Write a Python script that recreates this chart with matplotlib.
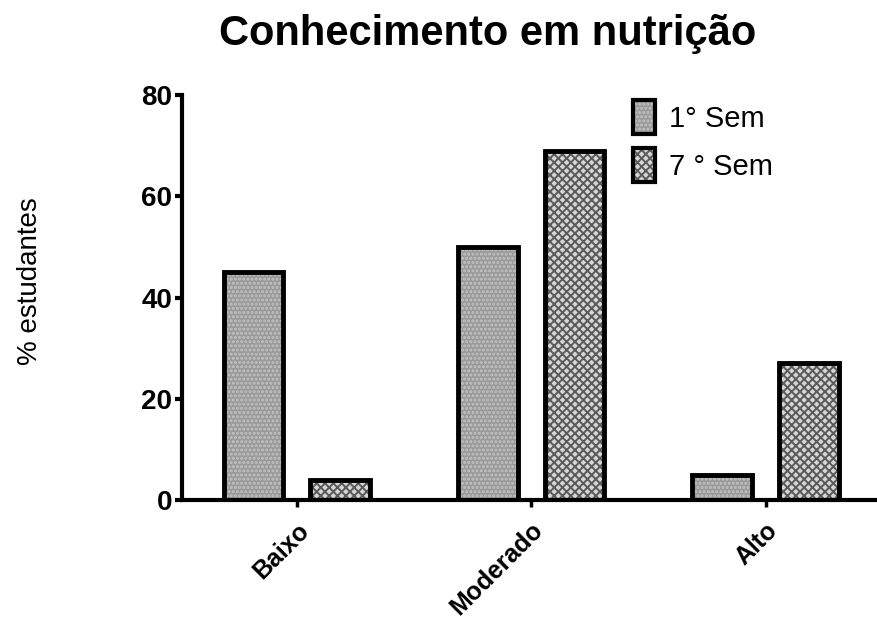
import matplotlib.pyplot as plt
import numpy as np
from matplotlib.legend_handler import HandlerTuple
from matplotlib.patches import Patch

categories = ["Baixo", "Moderado", "Alto"]
sem1 = [45, 50, 5]
sem7 = [4, 69, 27]
series_labels = ["1° Sem", "7 ° Sem"]
y_ticks = [0, 20, 40, 60, 80]


def main():
    plt.rcParams["font.family"] = ["Liberation Sans", "DejaVu Sans"]
    plt.rcParams["hatch.linewidth"] = 1.4

    fig = plt.figure(figsize=(8.78, 6.21), dpi=100)
    ax = fig.add_axes([0.2073, 0.1948, 0.7927, 0.6522])

    x = np.arange(len(categories))
    width = 0.255
    offset = 0.185

    styles = [
        dict(facecolor="#9a9a9a", hatch="....", edgecolor="#c4c4c4"),
        dict(facecolor="#d6d6d6", hatch="xxxx", edgecolor="#5a5a5a"),
    ]
    for vals, pos, st in zip([sem1, sem7], [x - offset, x + offset], styles):
        ax.bar(pos, vals, width, linewidth=0, zorder=2, **st)
        ax.bar(pos, vals, width, facecolor="none", edgecolor="black",
               linewidth=3.5, zorder=3)

    ax.set_xlim(-0.49, 2.48)
    ax.set_ylim(0, 80)
    ax.set_yticks(y_ticks)
    ax.set_xticks(x)
    ax.set_xticklabels(categories, rotation=45, ha="right",
                       rotation_mode="anchor", fontsize=18, fontweight="bold")
    ax.tick_params(axis="y", labelsize=20, width=3, length=5, pad=2)
    ax.tick_params(axis="x", width=2.5, length=5, pad=8)
    for lab in ax.get_yticklabels():
        lab.set_fontweight("bold")

    for side in ["top", "right"]:
        ax.spines[side].set_visible(False)
    for side in ["left", "bottom"]:
        ax.spines[side].set_linewidth(3)

    ax.set_ylabel("% estudantes", fontsize=20)
    ax.yaxis.set_label_coords(-0.2, 0.54)
    fig.suptitle("Conhecimento em nutrição", x=0.555, y=0.978,
                 fontsize=30, fontweight="bold")

    handles = [(Patch(linewidth=0, **st),
                Patch(facecolor="none", edgecolor="black", linewidth=3))
               for st in styles]
    ax.legend(handles=handles, labels=series_labels,
              handler_map={tuple: HandlerTuple(ndivide=1)},
              loc="upper left", bbox_to_anchor=(0.61, 1.052),
              frameon=False, fontsize=21, handlelength=0.75,
              handleheight=1.4, handletextpad=0.5, labelspacing=0.5)

    fig.savefig("out.png", dpi=100)


if __name__ == "__main__":
    main()
